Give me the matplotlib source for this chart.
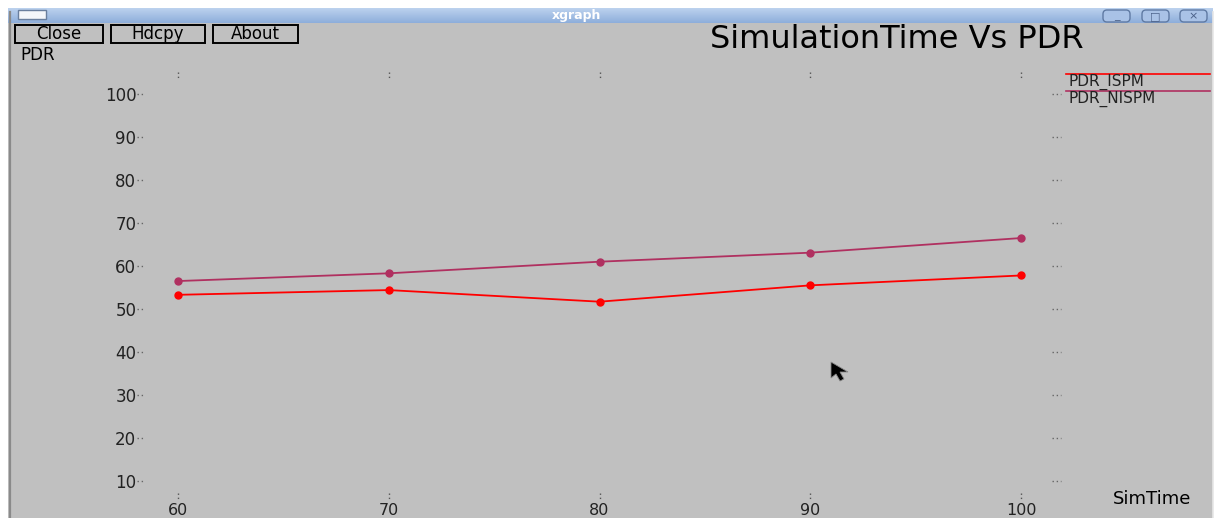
import numpy as np
import matplotlib
matplotlib.use("Agg")
import matplotlib.pyplot as plt
from matplotlib.patches import Rectangle, FancyBboxPatch, Polygon
from matplotlib.transforms import blended_transform_factory

# values
sim_time = [60, 70, 80, 90, 100]
pdr_ispm = [53.3, 54.4, 51.7, 55.5, 57.8]
pdr_nispm = [56.5, 58.3, 61.0, 63.1, 66.5]
y_ticks = [10, 20, 30, 40, 50, 60, 70, 80, 90, 100]
series_names = ["PDR_ISPM", "PDR_NISPM"]

W, H = 1218, 518
GRAY = "#c0c0c0"
RED = "#ff0000"
MAROON = "#b03060"
plt.rcParams["font.family"] = ["DejaVu Sans"]

fig = plt.figure(figsize=(W / 100, H / 100), dpi=100)
fig.patch.set_facecolor("white")

# pixel-space axes for the window chrome
bg = fig.add_axes([0, 0, 1, 1])
bg.set_xlim(0, W)
bg.set_ylim(H, 0)
bg.axis("off")

# window body and frame
bg.add_patch(Rectangle((8, 8), 1205, 520, facecolor=GRAY, edgecolor="none"))
bg.plot([9.5, 9.5], [12, H], color="#8a8a8a", lw=1.6)
bg.plot([1212.5, 1212.5], [12, H], color="#e6e6e6", lw=1.2)

# title bar gradient
grad = np.linspace(0, 1, 32).reshape(-1, 1)
bg.imshow(grad, extent=[8, 1213, 23, 8], cmap=matplotlib.colors.LinearSegmentedColormap.from_list(
    "tb", ["#bcd2ee", "#8eaedb"]), aspect="auto", zorder=1)
bg.text(577, 15.5, "xgraph", color="white", fontsize=9, fontweight="bold",
        ha="center", va="center", zorder=3)
bg.add_patch(Rectangle((18, 10), 28, 9, facecolor="#f4f6fa", edgecolor="#6a7f9e",
                       lw=1, zorder=3))
for x0, glyph in [(1103, "_"), (1142, "□"), (1180, "×")]:
    bg.add_patch(FancyBboxPatch((x0, 10), 27, 12, boxstyle="round,pad=0,rounding_size=4",
                                facecolor="#a9c2e6", edgecolor="#5f7aa3", lw=1, zorder=3))
    bg.text(x0 + 13.5, 16, glyph, color="#4a6088", fontsize=8, ha="center",
            va="center", zorder=4)

# xgraph buttons
for (x0, x1), label in zip([(15, 103), (111, 205), (213, 298)], ["Close", "Hdcpy", "About"]):
    bg.add_patch(Rectangle((x0, 24.5), x1 - x0, 18.5, facecolor="none",
                           edgecolor="black", lw=1.4, zorder=3))
    bg.text((x0 + x1) / 2, 34, label, fontsize=12, ha="center", va="center", zorder=4)

bg.text(20, 55, "PDR", fontsize=12, ha="left", va="center")
bg.text(1113, 499, "SimTime", fontsize=13, ha="left", va="center")
bg.text(897, 40, "SimulationTime Vs PDR", fontsize=23, ha="center", va="center")

# legend in xgraph style: line over the name
clip = Rectangle((0, 0), 1212, H, transform=bg.transData)
for y_line, color, name in zip([74, 91], [RED, MAROON], series_names):
    bg.plot([1066, 1210], [y_line, y_line], color=color, lw=1.2)
    t = bg.text(1068, y_line + 8, name, fontsize=11, ha="left", va="center",
                color="#222222")
    t.set_clip_path(clip)

# mouse pointer
bg.add_patch(Polygon([(831, 362), (831, 378), (836, 374), (840, 381), (844, 379),
                      (840, 372), (848, 372)], closed=True, facecolor="black",
                     edgecolor="#888888", lw=0.6, zorder=5))

# data axes placed on the plotting area
left, right, top, bottom = 178, 1021, 94, 481
ax = fig.add_axes([left / W, (H - bottom) / H, (right - left) / W, (bottom - top) / H])
ax.set_facecolor("none")
for s in ax.spines.values():
    s.set_visible(False)
ax.set_xlim(60, 100)
ax.set_ylim(10, 100)
ax.set_xticks(sim_time)
ax.set_xticklabels([str(v) for v in sim_time])
ax.set_yticks(y_ticks)
ax.set_yticklabels([str(v) for v in y_ticks])
ax.tick_params(axis="y", length=0, pad=30, labelsize=12, labelcolor="#222222")
ax.tick_params(axis="x", length=0, pad=15.5, labelsize=11.5, labelcolor="#222222")

# dotted tick marks around the plotting area
def ax_x(px):
    return (px - left) / (right - left)


def ax_y(py):
    return (bottom - py) / (bottom - top)


ty = blended_transform_factory(ax.transAxes, ax.transData)
tx = blended_transform_factory(ax.transData, ax.transAxes)
for v in y_ticks:
    ax.plot([ax_x(137), ax_x(145)], [v, v], transform=ty, color="#666666", lw=1,
            ls=(0, (1, 2)), clip_on=False)
    ax.plot([ax_x(1052), ax_x(1061)], [v, v], transform=ty, color="#666666", lw=1,
            ls=(0, (1, 2)), clip_on=False)
for v in sim_time:
    ax.plot([v, v], [ax_y(72), ax_y(78)], transform=tx, color="#555555", lw=1,
            ls=(0, (1, 2)), clip_on=False)
    ax.plot([v, v], [ax_y(493), ax_y(500)], transform=tx, color="#555555", lw=1,
            ls=(0, (1, 2)), clip_on=False)

ax.plot(sim_time, pdr_nispm, color=MAROON, lw=1.3, marker="o", ms=5, clip_on=False)
ax.plot(sim_time, pdr_ispm, color=RED, lw=1.3, marker="o", ms=5, clip_on=False)

fig.savefig("out.png", dpi=100, facecolor=fig.get_facecolor())
